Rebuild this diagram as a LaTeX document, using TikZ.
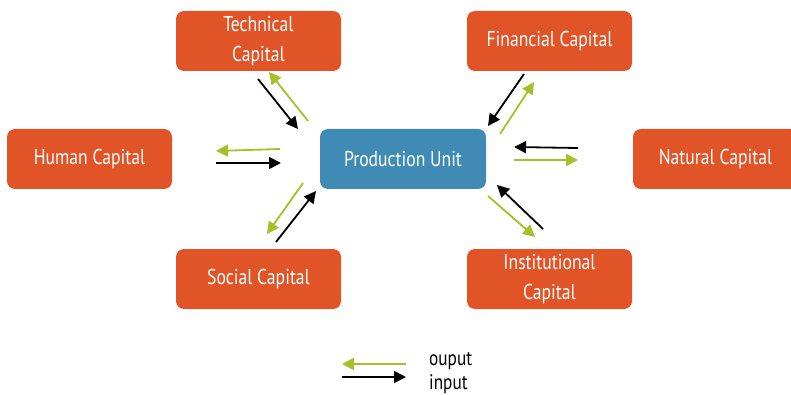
\documentclass[tikz,border=0pt]{standalone}
\usepackage{fontspec}
\setmainfont[FakeStretch=0.82]{PT Sans}
\usetikzlibrary{arrows.meta}
\definecolor{caporange}{HTML}{E05427}
\definecolor{prodblue}{HTML}{3F8BB6}
\definecolor{outgreen}{HTML}{A8BF2A}
\tikzset{
  capbox/.style={rectangle, rounded corners=8pt, minimum width=165pt, minimum height=60pt,
    fill=caporange, text=white, align=center, inner sep=0pt,
    font=\fontsize{21.5}{30}\selectfont},
  prodbox/.style={capbox, fill=prodblue, minimum width=166pt},
  inarrow/.style={draw=black, line width=1.8pt, -{Triangle[length=12pt,width=12pt]}},
  outarrow/.style={draw=outgreen, line width=1.8pt, -{Triangle[length=12pt,width=12pt]}},
  legtext/.style={anchor=base west, inner sep=0pt, font=\fontsize{21}{25}\selectfont, text=black}
}
\begin{document}
\begin{tikzpicture}[x=1pt,y=-1pt]
\useasboundingbox (0,0) rectangle (791,395);
\clip (0,0) rectangle (791,395);
\node[capbox] (tech) at (258.5,41) {Technical\\Capital};
\node[capbox] (fin) at (549.5,41) {Financial Capital};
\node[capbox] (hum) at (89.5,159) {Human Capital};
\node[prodbox] (prod) at (403,159) {Production Unit};
\node[capbox] (nat) at (715.5,159) {Natural Capital};
\node[capbox] (soc) at (258.5,279) {Social Capital};
\node[capbox] (inst) at (549.5,279) {Institutional\\Capital};
% arrow end points
\coordinate (techIa) at (258,79);  \coordinate (techIb) at (298,129);
\coordinate (techOa) at (308,121); \coordinate (techOb) at (269,72);
\coordinate (finIa) at (524,74);   \coordinate (finIb) at (488,126);
\coordinate (finOa) at (500,134);  \coordinate (finOb) at (534,82);
\coordinate (natIa) at (578,148);  \coordinate (natIb) at (514,147);
\coordinate (natOa) at (514,160);  \coordinate (natOb) at (578,160);
\coordinate (instIa) at (543,229); \coordinate (instIb) at (497,185);
\coordinate (instOa) at (488,196); \coordinate (instOb) at (535,237);
\coordinate (humOa) at (280,149);  \coordinate (humOb) at (216,151);
\coordinate (humIa) at (216,163);  \coordinate (humIb) at (281,163);
\coordinate (socOa) at (303,183);  \coordinate (socOb) at (267,234);
\coordinate (socIa) at (276,242);  \coordinate (socIb) at (316,191);
\draw[inarrow] (techIa) -- (techIb);
\draw[outarrow] (techOa) -- (techOb);
\draw[inarrow] (finIa) -- (finIb);
\draw[outarrow] (finOa) -- (finOb);
\draw[inarrow] (natIa) -- (natIb);
\draw[outarrow] (natOa) -- (natOb);
\draw[inarrow] (instIa) -- (instIb);
\draw[outarrow] (instOa) -- (instOb);
\draw[outarrow] (humOa) -- (humOb);
\draw[inarrow] (humIa) -- (humIb);
\draw[outarrow] (socOa) -- (socOb);
\draw[inarrow] (socIa) -- (socIb);
% legend
\coordinate (legOa) at (406,364); \coordinate (legOb) at (342,364);
\coordinate (legIa) at (342,377); \coordinate (legIb) at (406,377);
\draw[outarrow] (legOa) -- (legOb);
\draw[inarrow] (legIa) -- (legIb);
\node[legtext] (lout) at (429,365) {ouput};
\node[legtext] (lin) at (429,389) {input};
\end{tikzpicture}
\end{document}
